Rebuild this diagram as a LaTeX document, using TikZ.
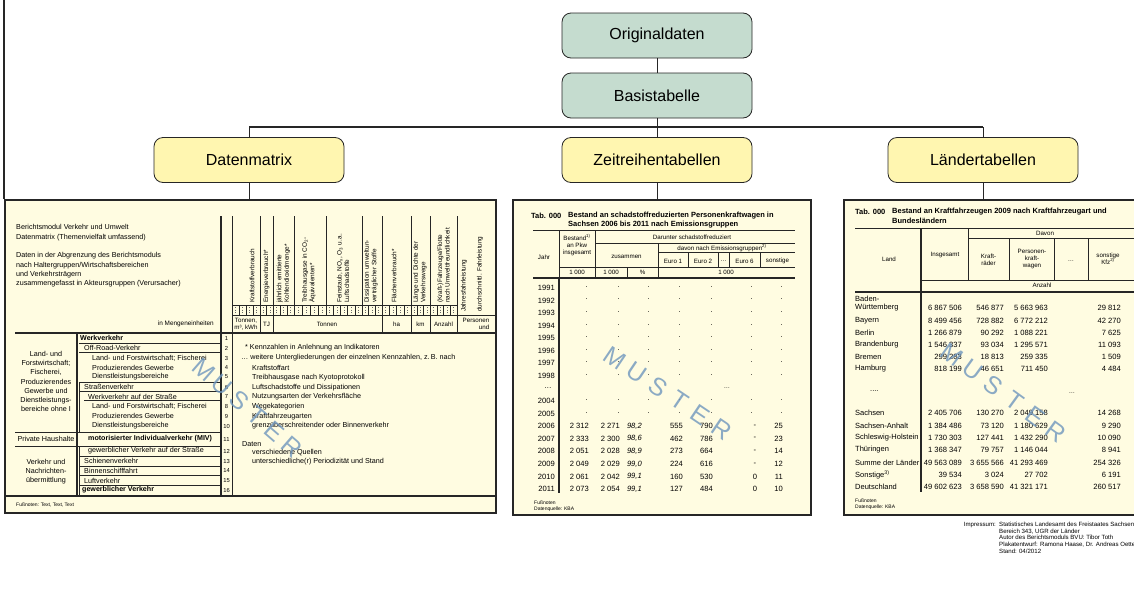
\documentclass[tikz,border=0pt]{standalone}
\usepackage{fontspec}
\setmainfont{Liberation Sans}
\usetikzlibrary{calc}
\definecolor{origgreen}{HTML}{C5DCCF}
\definecolor{boxyellow}{HTML}{FFF6B0}
\definecolor{paper}{HTML}{FFFCE1}
\definecolor{ink}{HTML}{262626}
\definecolor{muster}{HTML}{6F96BD}
\tikzset{
  % Baum
  srcbox/.style={draw=ink,fill=origgreen,rounded corners=9pt,line width=0.8pt,
    minimum width=190pt,minimum height=45pt,inner sep=0pt,font=\fontsize{16}{18}\selectfont},
  outbox/.style={srcbox,fill=boxyellow},
  tree/.style={draw=ink,line width=1pt},
  treebar/.style={draw=ink,line width=2pt},
  frameline/.style={draw=ink,line width=1.2pt},
  % Tabellen
  tabframe/.style={draw=ink,fill=paper,line width=2.2pt,anchor=north west,inner sep=0pt},
  rule/.style={draw=ink,line width=0.6pt},
  thickrule/.style={draw=ink,line width=1.5pt},
  tt/.style={font=\fontsize{7.2}{9}\selectfont,inner sep=0pt,anchor=west},
  ttb/.style={tt,font=\fontsize{7.1}{9}\selectfont\bfseries},
  tbig/.style={tt,font=\fontsize{7.5}{9}\selectfont},
  title/.style={tt,font=\fontsize{7.5}{8.5}\selectfont\bfseries},
  th/.style={font=\fontsize{6.2}{7}\selectfont,inner sep=0pt,align=center},
  colhead/.style={font=\fontsize{6.4}{7.5}\selectfont,inner sep=0pt,rotate=90,anchor=west,align=left},
  rowno/.style={font=\fontsize{5.8}{6}\selectfont,inner sep=0pt},
  num/.style={font=\fontsize{7.6}{8}\selectfont,inner sep=0pt,anchor=east},
  foot/.style={font=\fontsize{5}{5.8}\selectfont,inner sep=0pt,anchor=west},
  imp/.style={font=\fontsize{6.1}{6.6}\selectfont,inner sep=0pt},
  mletter/.style={font=\fontsize{25}{25}\selectfont,text=muster,text opacity=0.8,inner sep=0pt},
}

\begin{document}
\begin{tikzpicture}[x=1pt,y=-1pt]
  \useasboundingbox (0,0) rectangle (1134,592);
  \clip (0,0) rectangle (1134,592);
  \fill[white] (0,0) rectangle (1134,592);
  % Baum oben
  \node[srcbox] (orig) at (657,35.5) {Originaldaten};
  \node[srcbox] (basis) at (657,95.5) {Basistabelle};
  \node[outbox] (dmx) at (249,160) {Datenmatrix};
  \node[outbox] (zeit) at (657,160) {Zeitreihentabellen};
  \node[outbox] (laender) at (983,160) {Ländertabellen};
  % Tabellenrahmen
  \node[tabframe,minimum width=491pt,minimum height=313pt] (lefttab) at (4,199) {};
  \node[tabframe,minimum width=298pt,minimum height=315pt] (midtab) at (512,199) {};
  \node[tabframe,minimum width=300pt,minimum height=315pt] (righttab) at (843,199) {};
  \coordinate (barY) at (0,127);
  \draw[frameline] (4,0) -- (lefttab.north west);
  \draw[tree] (orig) -- (basis);
  \draw[tree] (basis) -- (zeit);
  \draw[treebar] (dmx.north |- barY) -- (laender.north |- barY);
  \draw[tree] (dmx.north |- barY) -- (dmx);
  \draw[tree] (laender.north |- barY) -- (laender);
  \draw[tree] (dmx) -- (dmx |- lefttab.north);
  \draw[tree] (zeit) -- (zeit |- midtab.north);
  \draw[tree] (laender) -- (laender |- righttab.north);

  % ---- Datenmatrix ----
  \node[tt,anchor=north west,align=left,font=\fontsize{7.2}{9.3}\selectfont] (lhead) at (16,224.5)
    {Berichtsmodul Verkehr und Umwelt\\Datenmatrix (Themenvielfalt umfassend)\\[9.3pt]
     Daten in der Abgrenzung des Berichtsmoduls\\nach Haltergruppen/Wirtschaftsbereichen\\
     und Verkehrsträgern\\zusammengefasst in Akteursgruppen (Verursacher)};
  \node[tt,anchor=east,font=\fontsize{6.4}{8}\selectfont] (einh) at (214,324) {in Mengeneinheiten};
  \draw[thickrule] (221,216) -- (221,496);
  \draw[rule] (232,216) -- (232,496);
  \foreach \x in {260,273,294,326,362,382,411,430,457}
    \draw[rule] (\x,216) -- (\x,315);
  \draw[rule] (232,305) -- (457,305);
  \draw[rule] (232,315) -- (495,315);
  \foreach \a/\b/\n in {232/260/4,260/273/2,273/294/3,294/326/4,326/362/5,
                        362/382/3,382/411/4,411/430/3,430/457/4} {
    \foreach \j in {1,...,\n} {
      \pgfmathsetmacro\xx{\a+(\b-\a)*\j/\n}
      \pgfmathsetmacro\xm{\a+(\b-\a)*(\j-0.5)/\n}
      \draw[draw=ink,line width=0.4pt] (\xx,305) -- (\xx,315);
      \draw[draw=ink!70,dotted,line width=0.5pt] (\xm,307) -- (\xm,313);
    }
  }
  \foreach \x in {260,273,382,411,430,457}
    \draw[rule] (\x,315) -- (\x,333);
  % Spaltenkoepfe
  \node[colhead] (h1) at (252,303) {Kraftstoffverbrauch};
  \node[colhead] (h2) at (266.5,303) {Energieverbrauch*};
  \node[colhead] (h3) at (283.5,303) {jährlich emittierte\\Kohlendioxidmenge*};
  \node[colhead] (h4) at (309,303) {Treibhausgase in CO\textsubscript{2}-\\Äquivalenten*};
  \node[colhead] (h5) at (343,303) {Feinstaub, NO\textsubscript{x}, O\textsubscript{3} u.\,a.\\Luftschadstoffe};
  \node[colhead] (h6) at (371,303) {Dissipation umweltun-\\verträglicher Stoffe};
  \node[colhead] (h7) at (394,303) {Flächenverbrauch*};
  \node[colhead] (h8) at (420,303) {Länge und Dichte der\\Verkehrswege};
  \node[colhead] (h9) at (443.5,303) {(Kraft-)Fahrzeuge/Flotte\\nach Umweltfreundlichkeit};
  \node[colhead] (h10) at (464,312) {Jahresfahrleistung};
  \node[colhead] (h11) at (480,312) {durchschnittl. Fahrleistung};
  % Einheiten
  \node[th] (u1) at (246,324) {Tonnen,\\m³, kWh};
  \node[th] (u2) at (266.5,324) {TJ};
  \node[th] (u3) at (327,324) {Tonnen};
  \node[th] (u4) at (396.5,324) {ha};
  \node[th] (u5) at (420.5,324) {km};
  \node[th] (u6) at (443.5,324) {Anzahl};
  \node[th,align=right] (u7) at (476,324) {Personen\\und};
  \draw[thickrule] (15,333) -- (495,333);
  \draw[thickrule] (4,496) -- (495,496);
  \draw[thickrule] (77,333) -- (77,496);
  % Zeilen
  \foreach \n/\y in {1/338,2/348,3/358,4/367.5,5/377,6/387,7/396.5,8/406,9/416,
                     10/426,11/439,12/451,13/461,14/470.5,15/480.5,16/490}
    \node[rowno] (no\n) at (226.5,\y) {\n};
  \node[ttb] (cat1) at (80,338) {Werkverkehr};
  \foreach \n/\x/\y/\t in {2/84/348/{Off-Road-Verkehr},
      3/92/358/{Land- und Forstwirtschaft; Fischerei},
      4/92/367.5/{Produzierendes Gewerbe},
      5/92/377/{Dienstleistungsbereiche},
      6/84/387/{Straßenverkehr},
      7/88/396.5/{Werkverkehr auf der Straße},
      8/92/406/{Land- und Forstwirtschaft; Fischerei},
      9/92/416/{Produzierendes Gewerbe},
      10/92/426/{Dienstleistungsbereiche},
      12/88/451/{gewerblicher Verkehr auf der Straße},
      13/84/461/{Schienenverkehr},
      14/84/470.5/{Binnenschifffahrt},
      15/84/480.5/{Luftverkehr}}
    \node[tt] (cat\n) at (\x,\y) {\t};
  \node[ttb] (cat11) at (88,439) {motorisierter Individualverkehr (MIV)};
  \node[ttb] (cat16) at (82,490) {gewerblicher Verkehr};
  \foreach \y in {343,352,382,391,456,466,475,485}
    \draw[rule,line width=1pt] (79,\y) -- (221,\y);
  \draw[rule,line width=1pt] (84,400) -- (221,400);
  \draw[rule,line width=1pt] (15,432) -- (221,432);
  \draw[rule,line width=1pt] (15,446) -- (221,446);
  \draw[rule,line width=1pt] (79,382) -- (79,432);
  \draw[rule,line width=1pt] (79,446) -- (79,496);
  \node[tt,anchor=center,align=center,font=\fontsize{7.2}{9.2}\selectfont] (grp1) at (46,381.5)
    {Land- und\\Forstwirtschaft;\\Fischerei,\\Produzierendes\\Gewerbe und\\Dienstleistungs-\\bereiche ohne I};
  \node[tt,anchor=center] (grp2) at (46,439) {Private Haushalte};
  \node[tt,anchor=center,align=center,font=\fontsize{7.2}{9}\selectfont] (grp3) at (46,472)
    {Verkehr und\\Nachrichten-\\übermittlung};
  % Hinweise
  \node[tt] (n1) at (245,348) {* Kennzahlen in Anlehnung an Indikatoren};
  \node[tt] (n2) at (241,358) {… weitere Untergliederungen der einzelnen Kennzahlen, z.\,B. nach};
  \foreach \y/\t [count=\k from 3] in {368/Kraftstoffart,378/Treibhausgase nach Kyotoprotokoll,
      388/Luftschadstoffe und Dissipationen,397/Nutzungsarten der Verkehrsfläche,
      407/Wegekategorien,417/Kraftfahrzeugarten,426/grenzüberschreitender oder Binnenverkehr,
      453/verschiedene Quellen,462/unterschiedliche(r) Periodizität und Stand}
    \node[tt] (n\k) at (252,\y) {\t};
  \node[tt] (daten) at (242,444) {Daten};
  \node[foot] (lfoot) at (16,505) {Fußnoten: Text, Text, Text};

  % ---- Zeitreihentabelle ----
  \node[title] (mt0) at (531,216) {Tab. 000};
  \node[title] (mt1) at (568,216) {Bestand an schadstoffreduzierten Personenkraftwagen in};
  \node[title] (mt2) at (568,224.5) {Sachsen 2006 bis 2011 nach Emissionsgruppen};
  \draw[rule] (533,230) -- (795,230);
  \draw[rule] (559,230) -- (559,278);
  \draw[thickrule] (559,278) -- (559,493);
  \draw[rule] (595,230) -- (595,278);
  \draw[rule] (595,243) -- (795,243);
  \draw[rule] (658,243) -- (658,278);
  \draw[rule] (658,252) -- (795,252);
  \foreach \x in {688,718,729,760}
    \draw[rule] (\x,252) -- (\x,267);
  \draw[rule] (559,267) -- (795,267);
  \draw[rule] (627,267) -- (627,278);
  \draw[thickrule] (533,278) -- (795,278);
  \node[th] (mh1) at (544,257) {Jahr};
  \node[th] (mh2) at (577,245) {Bestand\textsuperscript{1)}\\an Pkw\\insgesamt};
  \node[th] (mh3) at (692,237) {Darunter schadstoffreduziert};
  \node[th] (mh4) at (626.5,257) {zusammen};
  \node[th] (mh5) at (722,248) {davon nach Emissionsgruppen\textsuperscript{2)}};
  \foreach \x/\t [count=\k] in {673/Euro 1,703/Euro 2,723.5/…,744.5/Euro 6,777.5/sonstige}
    \node[th] (me\k) at (\x,261) {\t};
  \node[th] (mu1) at (577,272.5) {1~000};
  \node[th] (mu2) at (611,272.5) {1~000};
  \node[th] (mu3) at (642.5,272.5) {\%};
  \node[th] (mu4) at (726,272.5) {1~000};
  % Jahre ohne Werte
  \foreach \yr/\k in {1991/0,1992/1,1993/2,1994/3,1995/4,1996/5,1997/6,1998/7,2004/9,2005/10} {
    \node[num] (yr\yr) at (555,288+12.56*\k) {\yr};
    \foreach \x [count=\c] in {588,620,650,681,713,753,783}
      \node[num] (d\yr\c) at (\x,287+12.56*\k) {.};
  }
  \node[num] (yrgap) at (552,388.5) {…};
  \node[th] (mgap) at (727,388.5) {…};
  % Jahre mit Werten
  \foreach \yr/\a/\b/\c/\d/\e/\f/\g [count=\k from 11] in {
      2006/{2~312}/{2~271}/{98,2}/555/790/-/25,
      2007/{2~333}/{2~300}/{98,6}/462/786/-/23,
      2008/{2~051}/{2~028}/{98,9}/273/664/-/14,
      2009/{2~049}/{2~029}/{99,0}/224/616/-/12,
      2010/{2~061}/{2~042}/{99,1}/160/530/0/11,
      2011/{2~073}/{2~054}/{99,1}/127/484/0/10} {
    \node[num] (yr\yr) at (555,288+12.56*\k) {\yr};
    \node[num] (v\yr a) at (589,288+12.56*\k) {\a};
    \node[num] (v\yr b) at (620,288+12.56*\k) {\b};
    \node[num,font=\fontsize{7.6}{8}\selectfont\itshape] (v\yr c) at (642,288+12.56*\k) {\c};
    \node[num] (v\yr d) at (683,288+12.56*\k) {\d};
    \node[num] (v\yr e) at (713,288+12.56*\k) {\e};
    \node[num,anchor=center] (v\yr f) at (755,288+12.56*\k) {\f};
    \node[num] (v\yr g) at (783,288+12.56*\k) {\g};
  }
  \node[foot] (mfoot1) at (534,503) {Fußnoten};
  \node[foot] (mfoot2) at (534,509) {Datenquelle: KBA};

  % ---- Laendertabelle ----
  \node[title] (rt0) at (855,212) {Tab. 000};
  \node[title] (rt1) at (892,212) {Bestand an Kraftfahrzeugen 2009 nach Kraftfahrzeugart und};
  \node[title] (rt2) at (892,221) {Bundesländern};
  \draw[rule] (855,228) -- (1140,228);
  \draw[thickrule] (921,228) -- (921,492);
  \draw[rule] (968,228) -- (968,280);
  \draw[rule] (968,238) -- (1140,238);
  \foreach \x in {1009,1054,1088}
    \draw[rule] (\x,238) -- (\x,280);
  \draw[rule] (921,280) -- (1140,280);
  \draw[thickrule] (855,292) -- (1140,292);
  \node[th] (rh1) at (889,259) {Land};
  \node[th] (rh2) at (945,255) {Insgesamt};
  \node[th] (rh3) at (1045,233.5) {Davon};
  \node[th] (rh4) at (988.5,260) {Kraft-\\räder};
  \node[th] (rh5) at (1032,259) {Personen-\\kraft-\\wagen};
  \node[th] (rh6) at (1071,261) {…};
  \node[th] (rh7) at (1108,258.5) {sonstige\\Kfz\textsuperscript{2)}};
  \node[th] (rh8) at (1042,285.5) {Anzahl};
  \node[tbig] (land0) at (855,299) {Baden-};
  \foreach \y/\l/\a/\b/\c/\d [count=\k] in {
      308/Württemberg/{6~867~506}/{546~877}/{5~663~963}/{29~812},
      320.5/Bayern/{8~499~456}/{728~882}/{6~772~212}/{42~270},
      332.5/Berlin/{1~266~879}/{90~292}/{1~088~221}/{7~625},
      345/Brandenburg/{1~546~337}/{93~034}/{1~295~571}/{11~093},
      357/Bremen/{299~283}/{18~813}/{259~335}/{1~509},
      369/Hamburg/{818~199}/{46~651}/{711~450}/{4~484},
      413/Sachsen/{2~405~706}/{130~270}/{2~049~158}/{14~268},
      425.5/Sachsen-Anhalt/{1~384~486}/{73~120}/{1~180~629}/{9~290},
      438/Schleswig-Holstein/{1~730~303}/{127~441}/{1~432~290}/{10~090},
      450/Thüringen/{1~368~347}/{79~757}/{1~146~044}/{8~941},
      463/Summe der Länder/{49~563~089}/{3~655~566}/{41~293~469}/{254~326},
      475/{Sonstige\textsuperscript{3)}}/{39~534}/{3~024}/{27~702}/{6~191},
      487/Deutschland/{49~602~623}/{3~658~590}/{41~321~171}/{260~517}} {
    \node[tbig] (land\k) at (855,\y) {\l};
    \node[num] (la\k) at (962,\y) {\a};
    \node[num] (lb\k) at (1004,\y) {\b};
    \node[num] (lc\k) at (1048,\y) {\c};
    \node[num] (ld\k) at (1121,\y) {\d};
  }
  \node[tbig] (landgap) at (870,391) {....};
  \node[th] (rgap) at (1072,393) {…};
  \node[foot] (rfoot1) at (855,501) {Fußnoten};
  \node[foot] (rfoot2) at (855,507) {Datenquelle: KBA};

  % ---- MUSTER ----
  \foreach \l [count=\i from 0] in {M,U,S,T,E,R} {
    \node[mletter,rotate=-41] (wa\i) at (204+17.6*\i,370+15.4*\i) {\l};
    \node[mletter,rotate=-34] (wb\i) at (615+21.4*\i,358+14.3*\i) {\l};
    \node[mletter,rotate=-36] (wc\i) at (952+20.8*\i,355+15.4*\i) {\l};
  }

  % ---- Impressum ----
  \node[imp,anchor=north east] (impk) at (996,522) {Impressum:};
  \node[imp,anchor=north west,align=left] (impt) at (999,522)
    {Statistisches Landesamt des Freistaates Sachsen\\Bereich 343, UGR der Länder\\
     Autor des Berichtsmoduls BVU: Tibor Toth\\Plakatentwurf: Ramona Haase, Dr. Andreas Oette\\
     Stand: 04/2012};
\end{tikzpicture}
\end{document}
